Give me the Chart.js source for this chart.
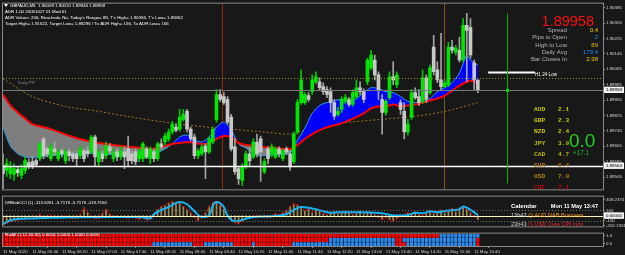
<!DOCTYPE html>
<html>
<head>
<meta charset="utf-8">
<title>GBPAUD,M5</title>
<script src="https://cdn.jsdelivr.net/npm/chart.js@4.4.1/dist/chart.umd.min.js"></script>
<style>
  html, body { margin: 0; padding: 0; background: #181818; }
  #wrap { position: relative; width: 625px; height: 255px; overflow: hidden; background: #181818; }
  canvas { position: absolute; left: 0; }
</style>
</head>
<body>
<div id="wrap">
  <canvas id="main" width="625" height="193" style="top:0"></canvas>
  <canvas id="cci" width="625" height="37" style="top:193px"></canvas>
  <canvas id="rsi" width="625" height="25" style="top:230px"></canvas>
</div>
<script>
// ---- data (M5 bars, 11 May 2020 05:00 .. 15:45) ----
const timeLabels = ['11 May 2020', '11 May 05:40', '11 May 06:20', '11 May 07:00', '11 May 07:40',
  '11 May 08:20', '11 May 09:00', '11 May 09:40', '11 May 10:20', '11 May 11:00', '11 May 11:40',
  '11 May 12:20', '11 May 13:00', '11 May 13:40', '11 May 14:20', '11 May 15:00', '11 May 15:40'];
const LABEL_STEP = 8; // one time label every 8 bars (40 min)

const opens = [
  1.89564, 1.89539, 1.89523, 1.89518, 1.89544, 1.89513, 1.89539, 1.89580, 1.89585, 1.89590,
  1.89600, 1.89703, 1.89651, 1.89600, 1.89651, 1.89600, 1.89641, 1.89590, 1.89636, 1.89626,
  1.89626, 1.89616, 1.89641, 1.89641, 1.89636, 1.89713, 1.89585, 1.89626, 1.89616, 1.89662,
  1.89600, 1.89636, 1.89610, 1.89636, 1.89651, 1.89626, 1.89636, 1.89600, 1.89600, 1.89651,
  1.89600, 1.89636, 1.89600, 1.89677, 1.89687, 1.89703, 1.89739, 1.89764, 1.89754, 1.89805,
  1.89846, 1.89754, 1.89713, 1.89616, 1.89626, 1.89667, 1.89636, 1.89687, 1.89805, 1.89934,
  1.89923, 1.89908, 1.89816, 1.89662, 1.89549, 1.89487, 1.89559, 1.89626, 1.89610, 1.89687,
  1.89703, 1.89533, 1.89651, 1.89626, 1.89610, 1.89651, 1.89600, 1.89651, 1.89626, 1.89585,
  1.89739, 1.89892, 1.89892, 1.89928, 1.89949, 1.90000, 1.90000, 1.89975, 1.89959, 1.89949,
  1.89892, 1.89831, 1.89857, 1.89898, 1.89908, 1.89882, 1.89923, 1.89969, 1.89949, 1.90000,
  1.90072, 1.90113, 1.90036, 1.89908, 1.89841, 1.89918, 1.90026, 1.89985, 1.89892, 1.89846,
  1.89739, 1.89816, 1.89944, 1.89923, 1.89898, 1.90021, 1.89944, 1.90180, 1.90062, 1.90010,
  1.89975, 1.89985, 1.90180, 1.90154, 1.90164, 1.90113, 1.90293, 1.90282, 1.90098, 1.90009];
const highs = [
  1.89626, 1.89600, 1.89585, 1.89574, 1.89559, 1.89569, 1.89610, 1.89600, 1.89610, 1.89600,
  1.89687, 1.89713, 1.89662, 1.89677, 1.89687, 1.89651, 1.89651, 1.89651, 1.89651, 1.89636,
  1.89641, 1.89667, 1.89651, 1.89662, 1.89723, 1.89723, 1.89651, 1.89641, 1.89687, 1.89677,
  1.89651, 1.89651, 1.89662, 1.89662, 1.89718, 1.89641, 1.89651, 1.89651, 1.89687, 1.89662,
  1.89662, 1.89651, 1.89687, 1.89703, 1.89733, 1.89754, 1.89795, 1.89780, 1.89857, 1.89857,
  1.89857, 1.89764, 1.89728, 1.89651, 1.89672, 1.89677, 1.89713, 1.89764, 1.89959, 1.89959,
  1.89944, 1.89923, 1.89831, 1.89703, 1.89559, 1.89574, 1.89641, 1.89651, 1.89703, 1.89728,
  1.89718, 1.89600, 1.89662, 1.89677, 1.89662, 1.89662, 1.89651, 1.89662, 1.89641, 1.89739,
  1.89908, 1.90062, 1.89944, 1.89944, 1.90036, 1.90052, 1.90021, 1.89995, 1.89975, 1.89969,
  1.89908, 1.89867, 1.89923, 1.89934, 1.89918, 1.89959, 1.90010, 1.90000, 1.89964, 1.90123,
  1.90164, 1.90139, 1.90052, 1.89934, 1.89908, 1.90052, 1.90103, 1.90052, 1.89908, 1.89892,
  1.89805, 1.89959, 1.89969, 1.89959, 1.90062, 1.90036, 1.90087, 1.90241, 1.90103, 1.90252,
  1.90010, 1.90205, 1.90216, 1.90190, 1.90231, 1.90329, 1.90356, 1.90329, 1.90113, 1.90010];
const lows = [
  1.89446, 1.89508, 1.89497, 1.89487, 1.89508, 1.89497, 1.89523, 1.89549, 1.89549, 1.89559,
  1.89590, 1.89600, 1.89610, 1.89590, 1.89616, 1.89590, 1.89610, 1.89574, 1.89590, 1.89585,
  1.89564, 1.89600, 1.89585, 1.89610, 1.89626, 1.89559, 1.89559, 1.89585, 1.89600, 1.89626,
  1.89585, 1.89590, 1.89595, 1.89549, 1.89564, 1.89574, 1.89569, 1.89585, 1.89585, 1.89600,
  1.89574, 1.89585, 1.89590, 1.89651, 1.89672, 1.89692, 1.89728, 1.89739, 1.89744, 1.89795,
  1.89739, 1.89692, 1.89600, 1.89600, 1.89616, 1.89497, 1.89626, 1.89677, 1.89790, 1.89898,
  1.89882, 1.89780, 1.89641, 1.89518, 1.89467, 1.89462, 1.89549, 1.89559, 1.89600, 1.89610,
  1.89482, 1.89523, 1.89574, 1.89610, 1.89600, 1.89610, 1.89590, 1.89621, 1.89539, 1.89574,
  1.89728, 1.89882, 1.89882, 1.89898, 1.89934, 1.89990, 1.89959, 1.89934, 1.89918, 1.89841,
  1.89805, 1.89821, 1.89841, 1.89887, 1.89872, 1.89872, 1.89913, 1.89934, 1.89892, 1.89985,
  1.90062, 1.90010, 1.89908, 1.89728, 1.89826, 1.89908, 1.89985, 1.89969, 1.89831, 1.89703,
  1.89723, 1.89805, 1.89908, 1.89877, 1.89887, 1.89892, 1.89934, 1.90036, 1.89995, 1.89959,
  1.89969, 1.89975, 1.90149, 1.90139, 1.90103, 1.90103, 1.90000, 1.90123, 1.89959, 1.89944];
const closes = [
  1.89523, 1.89574, 1.89559, 1.89549, 1.89528, 1.89549, 1.89590, 1.89564, 1.89559, 1.89569,
  1.89677, 1.89616, 1.89626, 1.89662, 1.89636, 1.89636, 1.89626, 1.89636, 1.89616, 1.89600,
  1.89600, 1.89651, 1.89600, 1.89626, 1.89713, 1.89610, 1.89636, 1.89600, 1.89667, 1.89641,
  1.89636, 1.89610, 1.89641, 1.89610, 1.89590, 1.89590, 1.89585, 1.89636, 1.89677, 1.89610,
  1.89651, 1.89600, 1.89677, 1.89662, 1.89718, 1.89739, 1.89780, 1.89749, 1.89816, 1.89831,
  1.89754, 1.89703, 1.89616, 1.89641, 1.89662, 1.89636, 1.89703, 1.89754, 1.89934, 1.89908,
  1.89892, 1.89790, 1.89651, 1.89533, 1.89497, 1.89559, 1.89626, 1.89590, 1.89687, 1.89626,
  1.89636, 1.89585, 1.89600, 1.89662, 1.89651, 1.89626, 1.89641, 1.89636, 1.89564, 1.89728,
  1.89892, 1.90010, 1.89934, 1.89908, 1.90010, 1.90026, 1.89969, 1.89949, 1.89934, 1.89892,
  1.89821, 1.89846, 1.89908, 1.89918, 1.89882, 1.89944, 1.89969, 1.89949, 1.89908, 1.90113,
  1.90139, 1.90036, 1.89959, 1.89841, 1.89898, 1.90026, 1.90010, 1.90036, 1.89857, 1.89739,
  1.89780, 1.89944, 1.89918, 1.89892, 1.90021, 1.89908, 1.90072, 1.90052, 1.90010, 1.89975,
  1.89995, 1.90180, 1.90164, 1.90175, 1.90113, 1.90293, 1.90267, 1.90139, 1.90010, 1.89958];

// moving averages, sampled at these bar indexes
const maIndex = [0, 2, 4, 6, 8, 10, 13, 16, 19, 22, 26, 30, 34, 38, 40, 42, 44, 46, 48, 50,
  52, 54, 56, 58, 60, 62, 64, 66, 68, 70, 74, 78, 80, 82, 84, 86, 88, 90, 92, 94,
  96, 98, 100, 102, 104, 106, 108, 110, 112, 114, 116, 118, 120, 122, 124, 126, 127, 129];
const redMA = [1.89934, 1.89877, 1.89841, 1.89810, 1.89780, 1.89769, 1.89754, 1.89733, 1.89713, 1.89697,
  1.89682, 1.89672, 1.89662, 1.89656, 1.89651, 1.89656, 1.89667, 1.89677, 1.89682, 1.89687,
  1.89682, 1.89677, 1.89682, 1.89703, 1.89718, 1.89713, 1.89682, 1.89672, 1.89667, 1.89662,
  1.89656, 1.89651, 1.89672, 1.89703, 1.89728, 1.89749, 1.89764, 1.89774, 1.89785, 1.89800,
  1.89816, 1.89836, 1.89862, 1.89872, 1.89872, 1.89882, 1.89872, 1.89877, 1.89882, 1.89892,
  1.89903, 1.89913, 1.89928, 1.89954, 1.89980, 1.90000, 1.90005, 1.89995];
const blueMA = [1.89764, 1.89667, 1.89626, 1.89610, 1.89605, 1.89610, 1.89616, 1.89621, 1.89626, 1.89626,
  1.89626, 1.89621, 1.89616, 1.89610, 1.89610, 1.89631, 1.89651, 1.89677, 1.89713, 1.89723,
  1.89697, 1.89687, 1.89713, 1.89764, 1.89790, 1.89749, 1.89677, 1.89656, 1.89626, 1.89616,
  1.89621, 1.89631, 1.89697, 1.89759, 1.89836, 1.89877, 1.89892, 1.89903, 1.89908, 1.89898,
  1.89913, 1.89944, 1.89969, 1.89964, 1.89949, 1.89944, 1.89923, 1.89898, 1.89892, 1.89898,
  1.89913, 1.89949, 1.89969, 1.89995, 1.90046, 1.90139, 1.90113, 1.90087];
const slowIndex = [0, 8, 17, 26, 35, 44, 53, 62, 71, 78, 82, 88, 94, 103, 112, 120, 129];
const slowMA = [1.90016, 1.89923, 1.89872, 1.89846, 1.89816, 1.89790, 1.89769, 1.89754, 1.89739,
  1.89728, 1.89749, 1.89774, 1.89790, 1.89805, 1.89821, 1.89846, 1.89892];

const priceTicks = [1.90385, 1.90305, 1.90225, 1.90145, 1.90065, 1.89985, 1.89905, 1.89825,
  1.89745, 1.89665, 1.89585, 1.89505];
const bidPrice = 1.89958;
const dailyPivot = 1.90021;
const supportLevel = 1.89564;
const h1Low = 1.90049;

// DRBobCCI: cci per bar, signal sampled at bar indexes
const cci = [
  -180, -150, -120, -100, -90, -60, -80, -40, -20, -60,
  30, -40, -20, 10, -30, -10, -30, 0, -40, -60,
  -50, 20, 150, 60, -10, -60, -50, 50, 120, 30,
  -20, -30, -10, -30, -60, -20, -50, -70, -30, -90,
  -60, 40, 120, 180, 200, 250, 280, 230, 250, 180,
  120, 60, -40, -100, -20, 60, 180, 260, 280, 200,
  120, 20, -60, -140, -160, -110, -60, -30, -20, 10,
  -20, 10, -30, 0, 40, 20, 60, 100, 180, 230,
  210, 150, 100, 130, 60, 110, 90, 40, 20, 60,
  80, 40, 50, 90, 60, 20, 50, 100, 30, 80,
  60, 20, -30, -80, -40, -80, -110, -60, -20, 20,
  60, 30, 80, 20, -10, 50, 90, 40, 80, 110,
  60, 100, 140, 80, 150, 170, 120, 60, -20, -80];
const cciSigIndex = [0, 2, 8, 13, 21, 32, 37, 40, 41, 45, 48, 50, 52, 54, 56, 57, 58, 60, 61, 63,
  65, 68, 73, 77, 79, 81, 85, 87, 89, 91, 97, 103, 107, 110, 112, 114, 116, 118, 121, 124, 125, 126, 129];
const cciSig = [-167, -90, -56, -44, -33, -28, -28, -56, 28, 167, 267, 222, 83, -28, 0, 200, 267, 167, 0, -111,
  -83, -28, -11, 28, 111, 167, 122, 83, 56, 67, 67, 44, 0, 11, 56, 44, 83, 67, 100, 122, 178, 156, 11];
const cciTicks = [309.2374, 100, -100, -202.1301];

// RsiAll heat rows, one letter per bar: R = red, B = blue
const rsiRow1 = ['RRRRRRRRRR', 'RRRRRRRRRR', 'RRRRRRRRRR', 'RRRRRRRRRR', 'RRRRRRRRRR', 'RRRRRRRRRR', 'RRRRRRRRRR',
  'RRRRRRRRRR', 'RRRRRRRRRR', 'RRRRRRRRRR', 'RRRRRRRRRR', 'RRRRRRRRRB', 'BBBBBBBBBB'].join('');
const rsiRow2 = ['RRRRRRRRRR', 'RRRRRRRRRR', 'RRRRRRRRRR', 'RRRRRRRRRR', 'RRRRRRRRRR', 'RRRRRRRRRR', 'RRRRRRRRRR',
  'RRRRRRRRRR', 'RRRRRRRRRB', 'BBBBBBBBBB', 'BBBBBBBRRB', 'BBBBBBBBBB', 'BBBBBBBBBR'].join('');
const rsiRow3 = ['RRRRRRRRRR', 'RRRRRRRRRR', 'RRRRRRRRRR', 'RRRRRRRRRR', 'RBBBBBBBBB', 'BBRRRBBBBB', 'BBBRRRRRBR',
  'RRRRRRRRRB', 'BBBBBBBBBB', 'BBBBBBBBBB', 'BBBBBBBRRR', 'BBBBBBBBBB', 'BBBBBBBBBR'].join('');

const currencies = ['AUD', 'GBP', 'NZD', 'JPY', 'CAD', 'EUR', 'USD', 'CHF'];
const strength = ['2.1', '2.3', '2.4', '3.9', '4.7', '6.4', '7.0', '7.1'];

// ---- look ----
const BG = '#181818';
const AXIS_W = 22;
const SHIFT = 34; // empty bars right of the last candle
const FONT = "'Liberation Sans', Arial, sans-serif";
const BULL = '#00e600', BEAR = '#c8c8c8';
const X_MAX = opens.length - 1 + SHIFT;

const xScale = (extra = {}) => Object.assign({
  type: 'linear', min: 0, max: X_MAX, offset: false, display: false,
  grid: { display: false }
}, extra);

const rightAxis = (min, max, values, fmt) => ({
  position: 'right', min, max,
  afterFit: (axis) => { axis.width = AXIS_W; },
  afterBuildTicks: (axis) => { axis.ticks = values.map(v => ({ value: v })); },
  grid: { drawOnChartArea: false, tickLength: 2, color: '#8c8c8c' },
  border: { color: '#9a9a9a' },
  ticks: { color: '#d6d6d6', padding: 1, autoSkip: false, font: { size: 4.4, family: FONT }, callback: fmt }
});

const baseOptions = {
  responsive: false,
  animation: false,
  events: [],
  plugins: { legend: { display: false }, tooltip: { enabled: false } }
};

const paintBg = {
  id: 'paintBg',
  beforeDraw(chart) {
    const { ctx, width, height } = chart;
    ctx.save();
    ctx.fillStyle = BG;
    ctx.fillRect(0, 0, width, height);
    ctx.restore();
  }
};

function hline(ctx, y, x0, x1, color, w, dash) {
  ctx.save();
  ctx.strokeStyle = color;
  ctx.lineWidth = w;
  ctx.setLineDash(dash || []);
  ctx.beginPath();
  ctx.moveTo(x0, Math.round(y) + 0.5);
  ctx.lineTo(x1, Math.round(y) + 0.5);
  ctx.stroke();
  ctx.restore();
}

function vline(ctx, x, y0, y1, color, w) {
  ctx.save();
  ctx.strokeStyle = color;
  ctx.lineWidth = w;
  ctx.beginPath();
  ctx.moveTo(Math.round(x) + 0.5, y0);
  ctx.lineTo(Math.round(x) + 0.5, y1);
  ctx.stroke();
  ctx.restore();
}

function text(ctx, str, x, y, color, font, align) {
  ctx.fillStyle = color;
  ctx.font = font;
  ctx.textAlign = align || 'left';
  ctx.textBaseline = 'alphabetic';
  ctx.fillText(str, x, y);
}

function axisBox(ctx, chart, y, label) {
  const left = chart.chartArea.right;
  ctx.save();
  ctx.fillStyle = '#e8e8e8';
  ctx.fillRect(left + 1, y - 3, AXIS_W - 2, 6);
  ctx.strokeStyle = '#ffffff';
  ctx.strokeRect(left + 1.5, y - 2.5, AXIS_W - 3, 5);
  text(ctx, label, left + 3, y + 1.6, '#000000', `4.4px ${FONT}`);
  ctx.restore();
}

function frame(ctx, a) {
  ctx.save();
  ctx.strokeStyle = '#8a8a8a';
  ctx.lineWidth = 1;
  ctx.strokeRect(a.left - 0.5, a.top - 0.5, a.right - a.left + 1, a.bottom - a.top + 1);
  ctx.restore();
}

// ---- main price panel ----
const sessionLines = [{ at: 59.5, color: '#8c2c0c' }, { at: 119.7, color: '#80561a' }];
const nowBar = 137;
const h1From = 131.8, h1To = 144.5;

const mainOverlay = {
  id: 'mainOverlay',
  beforeDatasetsDraw(chart) {
    const { ctx, chartArea: a, scales: { x } } = chart;
    sessionLines.forEach(s => vline(ctx, x.getPixelForValue(s.at), a.top, a.bottom, s.color, 1));
  },
  afterDatasetsDraw(chart) {
    const { ctx, chartArea: a, scales: { x, y } } = chart;
    hline(ctx, y.getPixelForValue(dailyPivot), a.left, a.right, '#a0961e', 1, [1, 2]);
    hline(ctx, y.getPixelForValue(bidPrice), a.left, a.right, '#787878', 1);
    hline(ctx, y.getPixelForValue(supportLevel), a.left, a.right, '#ffffff', 1.5);
    hline(ctx, y.getPixelForValue(h1Low), x.getPixelForValue(h1From), x.getPixelForValue(h1To), '#ffffff', 2);
    const nx = x.getPixelForValue(nowBar);
    vline(ctx, nx, a.top + 10, a.bottom - 6, '#00b400', 1);
    ctx.fillStyle = '#00dd00';
    ctx.fillRect(Math.round(nx) - 1, y.getPixelForValue(bidPrice) - 1, 3, 3);
  },
  afterDraw(chart) {
    const { ctx, chartArea: a, scales: { y } } = chart;
    frame(ctx, a);
    const f = (s) => `${s}px ${FONT}`;
    // header lines
    ctx.fillStyle = '#ffffff';
    ctx.beginPath(); ctx.moveTo(4, 4); ctx.lineTo(8, 4); ctx.lineTo(6, 7); ctx.closePath(); ctx.fill();
    text(ctx, 'GBPAUD,M5  1.90009 1.90010 1.89944 1.89958', 10, 7, '#ffffff', f(4.4));
    text(ctx, 'ADR 1.00 20051027 01 Mod 01', 5, 13, '#ffffff', f(4.4));
    text(ctx, "ADR Values: 206, Reached= No, Today's Range= 89, T's High= 1.90356, T's Low= 1.89462", 5, 19, '#ffffff', f(4.4));
    text(ctx, 'Target High= 1.91522, Target Low= 1.88296 / To ADR High= 156, To ADR Low= 166', 5, 25, '#ffffff', f(4.4));
    text(ctx, 'Daily PP', 18, y.getPixelForValue(dailyPivot) + 6, '#8c8c8c', f(4.4));
    text(ctx, 'H1 24 Low', 557, y.getPixelForValue(h1Low) + 4, '#ffffff', f(4.6), 'right');
    // price box
    text(ctx, '1.89958', 594, 26, '#ff1010', f(14.5), 'right');
    const rows = [['Spread', '0.4', '#f0d000'], ['Pips to Open', '2', '#1e90ff'], ['High to Low', '89', '#d8c000'],
      ['Daily Avg', '179.4', '#1e90ff'], ['Bar Closes In', '2:38', '#f0d000']];
    rows.forEach((r, k) => {
      text(ctx, r[0], 567, 32 + k * 7.3, '#b4b4b4', f(6), 'right');
      text(ctx, r[1], 598, 32 + k * 7.3, r[2], f(6), 'right');
    });
    // currency strength
    const cc = ['#c8c800', '#c8c800', '#c8c800', '#c0c000', '#b8b800', '#b06c10', '#c07c00', '#c80000'];
    currencies.forEach((c, k) => {
      const yy = 111 + k * 11.2;
      text(ctx, c, 534, yy, cc[k], `bold 6.2px 'Liberation Mono', monospace`);
      text(ctx, strength[k], 558, yy, cc[k], `bold 6.2px 'Liberation Mono', monospace`);
    });
    text(ctx, '0.0', 569, 147, '#20d020', f(19));
    text(ctx, '+17.1', 573, 155, '#20c020', f(6.4));
    // axis highlight boxes
    axisBox(ctx, chart, y.getPixelForValue(bidPrice), '1.89958');
    axisBox(ctx, chart, y.getPixelForValue(supportLevel), '1.89564');
  }
};

new Chart(document.getElementById('main'), {
  type: 'bar',
  data: {
    datasets: [
      {
        type: 'line', label: 'Slow MA', order: 5,
        data: slowIndex.map((b, k) => ({ x: b, y: slowMA[k] })),
        borderColor: '#a07a22', borderWidth: 1, borderDash: [2, 2], pointRadius: 0, tension: 0.3
      },
      {
        type: 'line', label: 'Fast MA', order: 4,
        data: maIndex.map((b, k) => ({ x: b, y: blueMA[k] })),
        borderColor: '#2aa0e8', borderWidth: 1, pointRadius: 0, tension: 0.3,
        fill: { target: 2, above: '#0000ff', below: '#7e7e7e' }
      },
      {
        type: 'line', label: 'Base MA', order: 3,
        data: maIndex.map((b, k) => ({ x: b, y: redMA[k] })),
        borderColor: '#ff0000', borderWidth: 2, pointRadius: 0, tension: 0.3
      },
      {
        label: 'Wicks', order: 2, grouped: false, barThickness: 1,
        data: highs.map((h, i) => ({ x: i, y: [lows[i], h] })),
        backgroundColor: (c) => closes[c.dataIndex] >= opens[c.dataIndex] ? '#00c800' : '#a4a4a4'
      },
      {
        label: 'Bodies', order: 1, grouped: false, barThickness: 3, minBarLength: 1,
        data: opens.map((o, i) => ({ x: i, y: [o, closes[i]] })),
        backgroundColor: (c) => closes[c.dataIndex] >= opens[c.dataIndex] ? BULL : BEAR
      }
    ]
  },
  options: {
    ...baseOptions,
    layout: { padding: { left: 3, top: 3, right: 0, bottom: 2 } },
    scales: {
      x: xScale(),
      y: rightAxis(1.89441, 1.90406, priceTicks, (v) => v.toFixed(5))
    }
  },
  plugins: [paintBg, mainOverlay]
});

// ---- DRBobCCI panel ----
const cciOverlay = {
  id: 'cciOverlay',
  afterDatasetsDraw(chart) {
    const { ctx, chartArea: a, scales: { y } } = chart;
    hline(ctx, y.getPixelForValue(100), a.left, a.right, '#6e6e6e', 1, [1, 2]);
    hline(ctx, y.getPixelForValue(-100), a.left, a.right, '#6e6e6e', 1, [1, 2]);
    hline(ctx, y.getPixelForValue(0), a.left, a.right, '#fff4c0', 1);
  },
  afterDraw(chart) {
    const { ctx, chartArea: a, scales: { y } } = chart;
    frame(ctx, a);
    const f = (s) => `${s}px ${FONT}`;
    text(ctx, 'DRBobCCI (1) -113.6261 -5.7176 -5.7176 -119.7550', 5, 11, '#ffffff', f(4.4));
    text(ctx, 'Calendar', 511, 15, '#ffffff', `bold 6px ${FONT}`);
    text(ctx, 'Mon 11 May 13:47', 598, 15, '#ffffff', `bold 5.6px ${FONT}`, 'right');
    text(ctx, '13h43', 511, 24, '#d0d0d0', f(5.6));
    text(ctx, '\u25F7 AUD NAB Business', 528, 24, '#ff9a00', f(5.6));
    text(ctx, '23h43', 511, 33, '#d0d0d0', f(5.6));
    text(ctx, '\u25F7 USD Core CPI m/m', 528, 33, '#ff2a2a', f(5.6));
    axisBox(ctx, chart, y.getPixelForValue(0), '0.00000');
  }
};

new Chart(document.getElementById('cci'), {
  type: 'bar',
  data: {
    datasets: [
      {
        type: 'line', label: 'Signal', order: 1,
        data: cciSigIndex.map((b, k) => ({ x: b, y: cciSig[k] })),
        borderColor: '#12b4f4', borderWidth: 2, pointRadius: 0, cubicInterpolationMode: 'monotone'
      },
      {
        type: 'line', label: 'CCI', order: 2,
        data: cci.map((v, i) => ({ x: i, y: v })),
        borderColor: '#b00000', borderWidth: 1, pointRadius: 0
      },
      {
        label: 'Histogram', order: 3, grouped: false, barThickness: 1,
        data: cci.map((v, i) => ({ x: i, y: v })),
        backgroundColor: '#9c8c58'
      }
    ]
  },
  options: {
    ...baseOptions,
    layout: { padding: { left: 3, top: 1, right: 0, bottom: 1 } },
    scales: {
      x: xScale(),
      y: rightAxis(-210, 370, cciTicks, (v) => (Number.isInteger(v) ? String(v) : v.toFixed(4)))
    }
  },
  plugins: [paintBg, cciOverlay]
});

// ---- RsiAll heat panel with the time axis ----
const RED = '#ff0000', BLUE = '#2a8cf0';
const heatRow = (row, label) => ({
  label, grouped: true,
  data: row.split('').map((_, i) => ({ x: i, y: 1 })),
  backgroundColor: (c) => row[c.dataIndex] === 'B' ? BLUE : RED,
  borderColor: 'rgba(0,0,0,0.35)', borderWidth: 0.6,
  barPercentage: 1, categoryPercentage: 1
});

const rsiOverlay = {
  id: 'rsiOverlay',
  afterDraw(chart) {
    const { ctx, chartArea: a } = chart;
    frame(ctx, a);
    text(ctx, 'RsiAll (1.11.30.80) 0.0000 2.0000 1.0000 0.0000', 5, 6, '#ffffff', `4.4px ${FONT}`);
  }
};

new Chart(document.getElementById('rsi'), {
  type: 'bar',
  data: { datasets: [heatRow(rsiRow3, 'row3'), heatRow(rsiRow2, 'row2'), heatRow(rsiRow1, 'row1')] },
  options: {
    ...baseOptions,
    layout: { padding: { left: 3, top: 1, right: 0, bottom: 0 } },
    scales: {
      x: xScale({
        display: true, stacked: true,
        afterFit: (axis) => { axis.height = 9; },
        afterBuildTicks: (axis) => { axis.ticks = timeLabels.map((_, k) => ({ value: k * LABEL_STEP })); },
        grid: { display: true, drawOnChartArea: false, tickLength: 2, color: '#8c8c8c' },
        border: { display: false },
        ticks: {
          color: '#d6d6d6', padding: 1, autoSkip: false, maxRotation: 0, align: 'start',
          font: { size: 4.3, family: FONT },
          callback: (v) => timeLabels[v / LABEL_STEP]
        }
      }),
      y: Object.assign(rightAxis(0, 3, [2.5, 0.5], (v) => (v > 1 ? '1.0' : '0.0')), { stacked: true })
    }
  },
  plugins: [paintBg, rsiOverlay]
});
</script>
</body>
</html>
